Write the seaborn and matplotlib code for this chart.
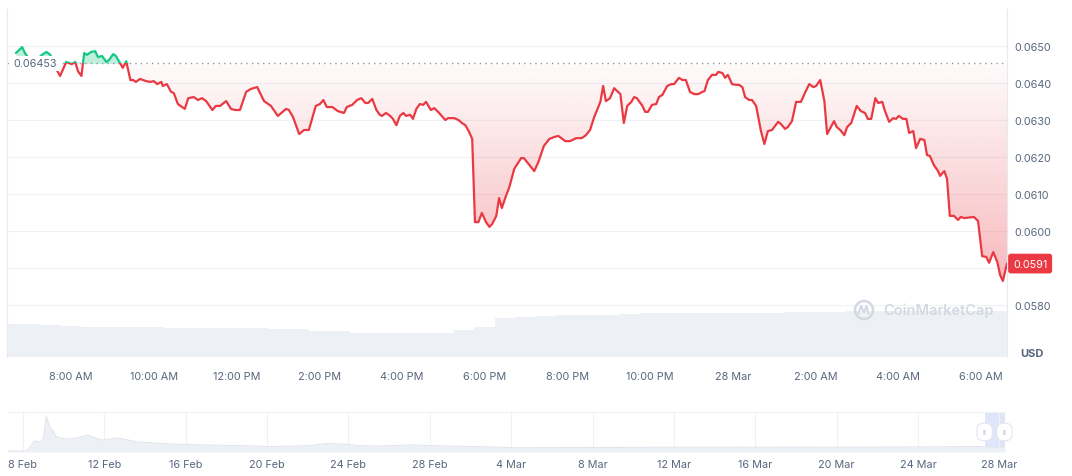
import numpy as np
import pandas as pd
import matplotlib
matplotlib.use("Agg")
import matplotlib.pyplot as plt
import matplotlib.dates as mdates
import matplotlib.transforms as mtransforms
from matplotlib.patches import Rectangle, Circle
from matplotlib.lines import Line2D
import seaborn as sns

# ------------------------------------------------------------------ data
price_times = [
    "27 06:40", "27 06:49", "27 06:53", "27 06:59", "27 07:06", "27 07:14", "27 07:19", "27 07:24", "27 07:30", "27 07:35",
    "27 07:40", "27 07:44", "27 07:53", "27 07:57", "27 08:01", "27 08:06", "27 08:10", "27 08:15", "27 08:19", "27 08:23",
    "27 08:29", "27 08:35", "27 08:39", "27 08:45", "27 08:51", "27 08:55", "27 09:01", "27 09:05", "27 09:10", "27 09:15",
    "27 09:20", "27 09:26", "27 09:30", "27 09:34", "27 09:40", "27 09:49", "27 09:55", "27 10:00", "27 10:05", "27 10:11",
    "27 10:13", "27 10:19", "27 10:25", "27 10:29", "27 10:35", "27 10:45", "27 10:50", "27 10:58", "27 11:04", "27 11:10",
    "27 11:16", "27 11:25", "27 11:30", "27 11:36", "27 11:45", "27 11:52", "27 11:58", "27 12:05", "27 12:14", "27 12:21",
    "27 12:30", "27 12:40", "27 12:50", "27 13:00", "27 13:12", "27 13:16", "27 13:22", "27 13:31", "27 13:38", "27 13:45",
    "27 13:55", "27 14:01", "27 14:06", "27 14:11", "27 14:19", "27 14:27", "27 14:36", "27 14:40", "27 14:48", "27 14:55",
    "27 15:01", "27 15:07", "27 15:11", "27 15:17", "27 15:23", "27 15:28", "27 15:31", "27 15:37", "27 15:43", "27 15:47",
    "27 15:52", "27 15:57", "27 16:02", "27 16:06", "27 16:12", "27 16:16", "27 16:21", "27 16:26", "27 16:31", "27 16:35",
    "27 16:42", "27 16:47", "27 16:54", "27 17:03", "27 17:07", "27 17:16", "27 17:22", "27 17:27", "27 17:32", "27 17:37",
    "27 17:42", "27 17:46", "27 17:51", "27 17:56", "27 18:02", "27 18:07", "27 18:11", "27 18:17", "27 18:21", "27 18:25",
    "27 18:31", "27 18:36", "27 18:43", "27 18:53", "27 18:57", "27 19:12", "27 19:18", "27 19:26", "27 19:34", "27 19:41",
    "27 19:47", "27 19:57", "27 20:04", "27 20:13", "27 20:21", "27 20:27", "27 20:33", "27 20:39", "27 20:48", "27 20:52",
    "27 20:56", "27 21:02", "27 21:08", "27 21:17", "27 21:22", "27 21:27", "27 21:33", "27 21:37", "27 21:41", "27 21:49",
    "27 21:53", "27 21:57", "27 22:03", "27 22:09", "27 22:13", "27 22:18", "27 22:25", "27 22:31", "27 22:35", "27 22:42",
    "27 22:47", "27 22:52", "27 22:58", "27 23:04", "27 23:10", "27 23:16", "27 23:19", "27 23:24", "27 23:30", "27 23:36",
    "27 23:39", "27 23:45", "27 23:49", "27 23:53", "27 23:59", "28 00:05", "28 00:09", "28 00:14", "28 00:18", "28 00:24",
    "28 00:28", "28 00:34", "28 00:41", "28 00:46", "28 00:51", "28 00:57", "28 01:06", "28 01:10", "28 01:16", "28 01:20",
    "28 01:26", "28 01:32", "28 01:39", "28 01:44", "28 01:51", "28 01:57", "28 02:01", "28 02:07", "28 02:13", "28 02:17",
    "28 02:21", "28 02:27", "28 02:31", "28 02:36", "28 02:42", "28 02:46", "28 02:52", "28 03:00", "28 03:06", "28 03:12",
    "28 03:16", "28 03:21", "28 03:27", "28 03:31", "28 03:37", "28 03:41", "28 03:47", "28 03:53", "28 03:57", "28 04:01",
    "28 04:07", "28 04:12", "28 04:16", "28 04:22", "28 04:26", "28 04:32", "28 04:38", "28 04:42", "28 04:46", "28 04:52",
    "28 04:58", "28 05:01", "28 05:07", "28 05:11", "28 05:15", "28 05:21", "28 05:27", "28 05:31", "28 05:36", "28 05:50",
    "28 05:56", "28 06:02", "28 06:08", "28 06:12", "28 06:18", "28 06:24", "28 06:28", "28 06:32", "28 06:38",
]
price_values = [
    0.06481, 0.06497, 0.06481, 0.06465, 0.06459, 0.06470, 0.06478, 0.06484, 0.06476, 0.06449,
    0.06432, 0.06419, 0.06457, 0.06454, 0.06451, 0.06457, 0.06432, 0.06419, 0.06481, 0.06476,
    0.06484, 0.06486, 0.06470, 0.06473, 0.06457, 0.06462, 0.06478, 0.06473, 0.06457, 0.06441,
    0.06459, 0.06408, 0.06408, 0.06403, 0.06411, 0.06405, 0.06403, 0.06405, 0.06397, 0.06403,
    0.06392, 0.06397, 0.06376, 0.06373, 0.06343, 0.06330, 0.06359, 0.06362, 0.06354, 0.06359,
    0.06351, 0.06327, 0.06338, 0.06338, 0.06351, 0.06330, 0.06327, 0.06327, 0.06376, 0.06384,
    0.06389, 0.06351, 0.06338, 0.06311, 0.06330, 0.06327, 0.06308, 0.06262, 0.06273, 0.06273,
    0.06338, 0.06343, 0.06354, 0.06335, 0.06335, 0.06324, 0.06319, 0.06335, 0.06341, 0.06354,
    0.06359, 0.06346, 0.06346, 0.06357, 0.06327, 0.06314, 0.06311, 0.06319, 0.06311, 0.06303,
    0.06286, 0.06311, 0.06319, 0.06311, 0.06314, 0.06303, 0.06330, 0.06343, 0.06341, 0.06349,
    0.06327, 0.06332, 0.06319, 0.06300, 0.06305, 0.06305, 0.06300, 0.06292, 0.06286, 0.06270,
    0.06249, 0.06024, 0.06024, 0.06049, 0.06024, 0.06011, 0.06019, 0.06041, 0.06089, 0.06062,
    0.06095, 0.06119, 0.06168, 0.06197, 0.06197, 0.06162, 0.06186, 0.06230, 0.06249, 0.06254,
    0.06257, 0.06243, 0.06243, 0.06251, 0.06251, 0.06259, 0.06273, 0.06308, 0.06349, 0.06392,
    0.06351, 0.06359, 0.06386, 0.06370, 0.06292, 0.06338, 0.06349, 0.06362, 0.06359, 0.06338,
    0.06322, 0.06322, 0.06341, 0.06343, 0.06362, 0.06368, 0.06392, 0.06397, 0.06397, 0.06414,
    0.06408, 0.06408, 0.06376, 0.06370, 0.06370, 0.06376, 0.06378, 0.06408, 0.06422, 0.06422,
    0.06430, 0.06427, 0.06414, 0.06422, 0.06397, 0.06395, 0.06395, 0.06389, 0.06362, 0.06354,
    0.06354, 0.06338, 0.06270, 0.06235, 0.06270, 0.06273, 0.06295, 0.06289, 0.06276, 0.06281,
    0.06297, 0.06349, 0.06349, 0.06370, 0.06397, 0.06389, 0.06392, 0.06408, 0.06351, 0.06262,
    0.06276, 0.06297, 0.06281, 0.06273, 0.06259, 0.06281, 0.06292, 0.06338, 0.06324, 0.06319,
    0.06303, 0.06303, 0.06359, 0.06346, 0.06349, 0.06324, 0.06295, 0.06305, 0.06303, 0.06311,
    0.06303, 0.06303, 0.06265, 0.06270, 0.06224, 0.06249, 0.06246, 0.06205, 0.06203, 0.06178,
    0.06162, 0.06149, 0.06162, 0.06141, 0.06041, 0.06041, 0.06030, 0.06038, 0.06035, 0.06038,
    0.06027, 0.05932, 0.05930, 0.05914, 0.05943, 0.05916, 0.05881, 0.05865, 0.05912,
]
ref_price = 0.06453
ref_label = "0.06453"
last_label = "0.0591"
price_ticks = [0.0580, 0.0590, 0.0600, 0.0610, 0.0620, 0.0630, 0.0640, 0.0650]
# the 0.0590 label sits under the current-price badge in the reference
price_tick_labels = ["0.0580", "", "0.0600", "0.0610", "0.0620", "0.0630", "0.0640", "0.0650"]

time_tick_times = ["27 08:00", "27 10:00", "27 12:00", "27 14:00", "27 16:00", "27 18:00",
                   "27 20:00", "27 22:00", "28 00:00", "28 02:00", "28 04:00", "28 06:00"]
time_tick_labels = ["8:00 AM", "10:00 AM", "12:00 PM", "2:00 PM", "4:00 PM", "6:00 PM",
                    "8:00 PM", "10:00 PM", "28 Mar", "2:00 AM", "4:00 AM", "6:00 AM"]

# 24h volume (millions), one value per 30 minutes from 27 Mar 06:30
vol_values = [3.3, 3.3, 3.2, 3.1, 3.0, 3.0, 3.0, 3.0, 2.9, 2.9, 2.9, 2.9, 2.9, 2.8, 2.8, 2.6,
              2.6, 2.4, 2.4, 2.4, 2.4, 2.4, 2.7, 3.0, 3.9, 4.0, 4.1, 4.2, 4.2, 4.2, 4.3, 4.4,
              4.4, 4.4, 4.4, 4.4, 4.4, 4.4, 4.5, 4.5, 4.5, 4.6, 4.6, 4.6, 4.6, 4.6, 4.6, 4.6,
              4.6]

nav_times = ["2025-02-07 06:30", "2025-02-08 05:00", "2025-02-08 13:30", "2025-02-08 19:30",
             "2025-02-08 23:30", "2025-02-09 03:40", "2025-02-09 09:00", "2025-02-09 11:45",
             "2025-02-09 14:35", "2025-02-09 19:30", "2025-02-10 03:50", "2025-02-10 16:00",
             "2025-02-11 04:30", "2025-02-11 10:20", "2025-02-11 22:00", "2025-02-12 14:40",
             "2025-02-12 22:50", "2025-02-13 15:20", "2025-02-15 07:00", "2025-02-17 00:00",
             "2025-02-18 17:00", "2025-02-20 08:30", "2025-02-22 01:40", "2025-02-22 21:40",
             "2025-02-23 17:40", "2025-02-24 13:40", "2025-02-25 10:50", "2025-02-27 02:30",
             "2025-02-28 20:00", "2025-03-02 12:00", "2025-03-04 04:00", "2025-03-10 00:00",
             "2025-03-16 00:00", "2025-03-22 00:00", "2025-03-27 00:00", "2025-03-28 06:30"]
nav_values = [0.012, 0.012, 0.13, 0.12, 0.13, 0.42, 0.27, 0.25, 0.19, 0.165, 0.153, 0.165,
              0.20, 0.177, 0.14, 0.165, 0.153, 0.118, 0.094, 0.083, 0.075, 0.063, 0.075, 0.10,
              0.094, 0.075, 0.07, 0.083, 0.07, 0.063, 0.05, 0.055, 0.057, 0.058, 0.064, 0.059]
nav_tick_dates = ["2025-02-08", "2025-02-12", "2025-02-16", "2025-02-20", "2025-02-24",
                  "2025-02-28", "2025-03-04", "2025-03-08", "2025-03-12", "2025-03-16",
                  "2025-03-20", "2025-03-24", "2025-03-28"]
nav_tick_labels = ["8 Feb", "12 Feb", "16 Feb", "20 Feb", "24 Feb", "28 Feb", "4 Mar",
                   "8 Mar", "12 Mar", "16 Mar", "20 Mar", "24 Mar", "28 Mar"]

# ------------------------------------------------------------------ style
sns.set_theme(style="white")
plt.rcParams["font.family"] = ["Inter", "DejaVu Sans"]

RED = "#ea3943"
GREEN = "#16c784"
TXT = "#58667e"
GRID = "#eff2f5"

W, H = 1072, 477
fig = plt.figure(figsize=(W / 100, H / 100), dpi=100, facecolor="white")


def px_axes(left, top, right, bottom):
    return [left / W, 1 - bottom / H, (right - left) / W, (bottom - top) / H]


ax = fig.add_axes(px_axes(7, 10, 1007, 358))
ax_v = ax.twinx()
ax.set_zorder(ax_v.get_zorder() + 1)
ax.patch.set_visible(False)


def to_dt(lst):
    return pd.to_datetime(["2025-03-" + s for s in lst], format="%Y-%m-%d %H:%M")


t = to_dt(price_times)
v = np.array(price_values)
df = pd.DataFrame({"time": t, "price": v})

t0 = pd.Timestamp("2025-03-27 06:27")
t1 = pd.Timestamp("2025-03-28 06:38")
x0, x1 = mdates.date2num(t0), mdates.date2num(t1)
ylo, yhi = 0.056595, 0.06600

# volume bars
vol_t = pd.date_range("2025-03-27 06:30", periods=len(vol_values), freq="30min")
ax_v.bar(vol_t, vol_values, width=30 / 1440, align="center", color="#edf0f4", lw=0)
ax_v.set_ylim(0, 34.8)
ax_v.set_xlim(t0, t1)
ax_v.axis("off")

# fills
tn = mdates.date2num(t)
red_rgb = np.array([234, 57, 67]) / 255
n = 256
img = np.zeros((n, 1, 4))
img[:, 0, :3] = red_rgb
img[:, 0, 3] = np.linspace(0.36, 0.02, n)
im = ax.imshow(img, extent=[x0, x1, 0.0585, ref_price], origin="lower",
               aspect="auto", zorder=1, interpolation="bilinear")
clip_poly = ax.fill_between(tn, np.minimum(v, ref_price), ref_price,
                            facecolor="none", edgecolor="none")
im.set_clip_path(clip_poly.get_paths()[0], transform=ax.transData)
ax.fill_between(tn, np.maximum(v, ref_price), ref_price, color=GREEN,
                alpha=0.28, lw=0, zorder=1)

# lines (red below reference, green above)
sns.lineplot(data=df, x="time", y="price", ax=ax, color=RED, lw=1.6,
             sort=False, estimator=None, zorder=3)
ln_r = ax.lines[-1]
ln_r.set_clip_path(Rectangle((x0, ylo), x1 - x0, ref_price - ylo, transform=ax.transData))
sns.lineplot(data=df, x="time", y="price", ax=ax, color=GREEN, lw=1.6,
             sort=False, estimator=None, zorder=3)
ln_g = ax.lines[-1]
ln_g.set_clip_path(Rectangle((x0, ref_price), x1 - x0, yhi - ref_price, transform=ax.transData))

ax.axhline(ref_price, color="#8d96a8", lw=1.0, ls=(0, (1, 3)), zorder=2)

ax.set_xlim(t0, t1)
ax.set_ylim(ylo, yhi)
ax.set_xlabel("")
ax.set_ylabel("")
ax.grid(False)
ax.grid(axis="y", color=GRID, lw=0.8)
ax.set_axisbelow(True)

ax.yaxis.tick_right()
ax.set_yticks(price_ticks)
ax.set_yticklabels(price_tick_labels)
ax.tick_params(axis="y", length=0, pad=5, labelsize=7.8, labelcolor=TXT)
ax.set_xticks(to_dt(time_tick_times))
ax.set_xticklabels(time_tick_labels)
ax.tick_params(axis="x", length=0, pad=10, labelsize=7.8, labelcolor=TXT)
for s in ["top", "bottom"]:
    ax.spines[s].set_visible(False)
for s in ["left", "right"]:
    ax.spines[s].set_color("#e6e9ee")
    ax.spines[s].set_linewidth(0.8)

bt = mtransforms.blended_transform_factory(ax.transAxes, ax.transData)
ax.text(0.006, ref_price, ref_label, transform=bt, ha="left", va="center",
        fontsize=7.8, color=TXT, zorder=6,
        bbox=dict(boxstyle="square,pad=0.25", fc="white", ec="none"))
ax.text(1.006, price_values[-1], last_label, transform=bt, ha="left", va="center",
        fontsize=7.8, color="white", zorder=6, clip_on=False,
        bbox=dict(boxstyle="round,pad=0.45,rounding_size=0.25", fc=RED, ec="none"))

fig.text(1032 / W, 1 - 354 / H, "USD", ha="center", va="center", fontsize=8,
         fontweight="bold", color=TXT)

# watermark
wm = "#d3d9e2"
fig.text(883 / W, 1 - 311 / H, "CoinMarketCap", ha="left", va="center",
         fontsize=10.5, fontweight="semibold", color=wm)
cx, cy = 8.64, (H - 311) / 100
fig.patches.append(Circle((cx, cy), 0.09, transform=fig.dpi_scale_trans,
                          fc="none", ec=wm, lw=1.8))
fig.lines.append(Line2D([cx - 0.055, cx - 0.03, cx, cx + 0.025, cx + 0.045],
                        [cy - 0.035, cy + 0.04, cy - 0.025, cy + 0.04, cy - 0.035],
                        transform=fig.dpi_scale_trans, color=wm, lw=1.5))

# ------------------------------------------------------------------ navigator
nav = fig.add_axes(px_axes(8, 413, 1005, 453))
nt = pd.to_datetime(nav_times)
nav.fill_between(nt, nav_values, 0, color="#edf0f4", lw=0)
sns.lineplot(x=nt, y=nav_values, ax=nav, color="#e2e6ec", lw=0.8)
n0, n1 = pd.Timestamp("2025-02-07 06:30"), pd.Timestamp("2025-03-28 06:30")
nav.set_xlim(n0, n1)
nav.set_ylim(0, 0.472)
nav.axvspan(pd.Timestamp("2025-03-27 06:30"), n1, color="#dfe6fb", lw=0, zorder=0.5)
nav.set_xticks(pd.to_datetime(nav_tick_dates))
nav.set_xticklabels(nav_tick_labels)
nav.set_yticks([])
nav.set_xlabel("")
nav.grid(False)
nav.grid(axis="x", color=GRID, lw=0.8)
nav.set_axisbelow(True)
nav.tick_params(axis="x", length=0, pad=5, labelsize=7.8, labelcolor=TXT)
for s in ["left", "right", "bottom"]:
    nav.spines[s].set_visible(False)
nav.spines["top"].set_color(GRID)
nav.spines["top"].set_linewidth(0.8)
for hx in [pd.Timestamp("2025-03-27 06:30"), pd.Timestamp("2025-03-28 05:50")]:
    nav.text(hx, 0.236, "II", ha="center", va="center", fontsize=5.5, color="#a6aec0",
             zorder=5, clip_on=False,
             bbox=dict(boxstyle="round,pad=0.75,rounding_size=0.9", fc="white",
                       ec="#e3e6ec", lw=0.8))

fig.savefig("out.png", dpi=100, facecolor="white")
